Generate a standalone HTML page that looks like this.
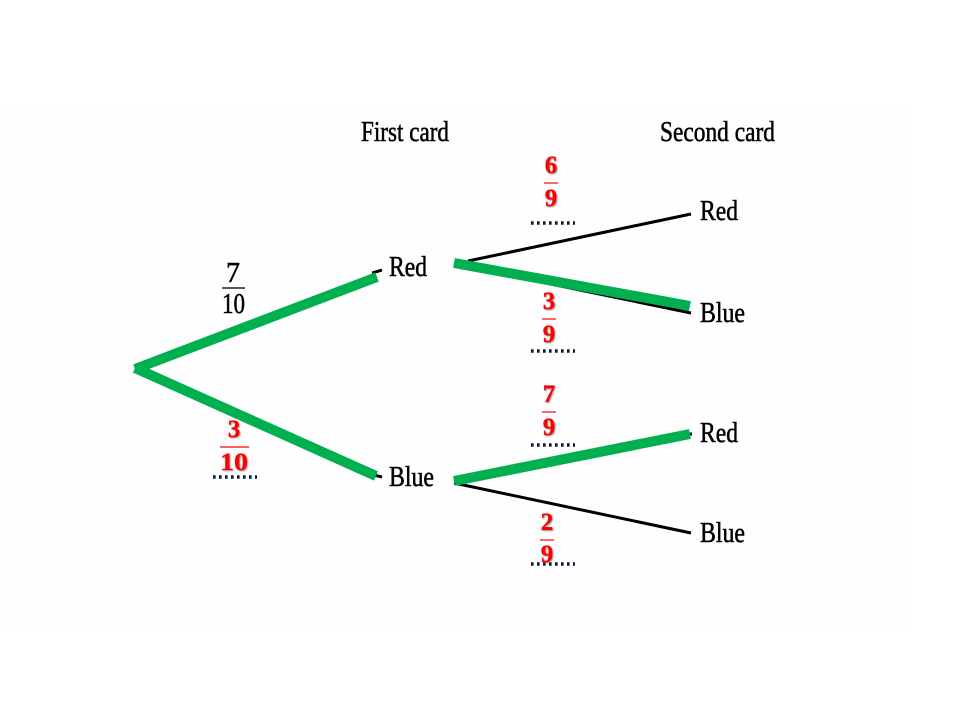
<!DOCTYPE html>
<html>
<head>
<meta charset="utf-8">
<style>
html,body{margin:0;padding:0;background:#fff;}
svg{display:block;}
.k{font-family:"Liberation Serif",serif;fill:#000;font-size:29px;stroke:#000;stroke-width:.55px;filter:blur(.35px);}
.r{font-family:"Liberation Serif",serif;font-weight:bold;fill:#f00;font-size:25px;text-anchor:middle;stroke:#f00;stroke-width:.3px;filter:drop-shadow(1px 1px .8px rgba(90,90,90,.6));}
</style>
</head>
<body>
<svg width="960" height="720" viewBox="0 0 960 720" xmlns="http://www.w3.org/2000/svg">
<rect width="960" height="720" fill="#fff"/>
<rect x="0" y="105" width="908" height="525" fill="#fefefe"/>

<!-- black branches -->
<g stroke="#000" stroke-width="3" fill="none">
<line x1="468" y1="261" x2="691" y2="214"/>
<line x1="454" y1="264" x2="691" y2="313"/>
<line x1="454" y1="483" x2="691" y2="533"/>
<line x1="372" y1="273" x2="382" y2="270"/>
<line x1="374" y1="475" x2="382" y2="477"/>
<line x1="686" y1="434" x2="692" y2="434"/>
</g>

<!-- green branches -->
<g stroke="#00b050" stroke-width="10" fill="none">
<line x1="135" y1="369" x2="377" y2="277"/>
<line x1="135" y1="368" x2="376" y2="476"/>
<line x1="454" y1="263" x2="690" y2="306"/>
<line x1="454" y1="481" x2="690" y2="434"/>
</g>

<!-- headings and outcomes -->
<text class="k" x="361" y="141" textLength="88" lengthAdjust="spacingAndGlyphs">First card</text>
<text class="k" x="660" y="141" textLength="115" lengthAdjust="spacingAndGlyphs">Second card</text>
<text class="k" x="389" y="276" textLength="38" lengthAdjust="spacingAndGlyphs">Red</text>
<text class="k" x="389" y="486" textLength="45" lengthAdjust="spacingAndGlyphs">Blue</text>
<text class="k" x="700" y="220" textLength="38" lengthAdjust="spacingAndGlyphs">Red</text>
<text class="k" x="700" y="322" textLength="45" lengthAdjust="spacingAndGlyphs">Blue</text>
<text class="k" x="700" y="442" textLength="38" lengthAdjust="spacingAndGlyphs">Red</text>
<text class="k" x="700" y="542" textLength="45" lengthAdjust="spacingAndGlyphs">Blue</text>

<!-- 7/10 -->
<text class="k" x="226" y="282" textLength="14" lengthAdjust="spacingAndGlyphs">7</text>
<line x1="222" y1="288" x2="245" y2="288" stroke="#222" stroke-width="1.6"/>
<text class="k" x="222" y="313" textLength="23" lengthAdjust="spacingAndGlyphs">10</text>

<!-- red fractions -->
<g stroke="#f00" stroke-width="1.2">
<line x1="220" y1="447" x2="249" y2="447"/>
<line x1="544" y1="183" x2="558" y2="183"/>
<line x1="542" y1="319" x2="556" y2="319"/>
<line x1="542" y1="412" x2="556" y2="412"/>
<line x1="540" y1="540" x2="554" y2="540"/>
</g>

<!-- dotted answer lines -->
<g stroke="#0c1a30" stroke-width="3.4" stroke-dasharray="2.6 3.4" fill="none">
<line x1="213" y1="477" x2="257" y2="477"/>
<line x1="531" y1="223" x2="575" y2="223"/>
<line x1="531" y1="351" x2="575" y2="351"/>
<line x1="531" y1="445" x2="575" y2="445"/>
<line x1="531" y1="564" x2="575" y2="564"/>
</g>

<text class="r" x="234" y="437">3</text>
<text class="r" x="234" y="470" textLength="28" lengthAdjust="spacingAndGlyphs">10</text>
<text class="r" x="551" y="173">6</text>
<text class="r" x="551" y="206">9</text>
<text class="r" x="549" y="309">3</text>
<text class="r" x="549" y="342">9</text>
<text class="r" x="549" y="402">7</text>
<text class="r" x="549" y="435">9</text>
<text class="r" x="547" y="530">2</text>
<text class="r" x="547" y="562">9</text>
</svg>
</body>
</html>
